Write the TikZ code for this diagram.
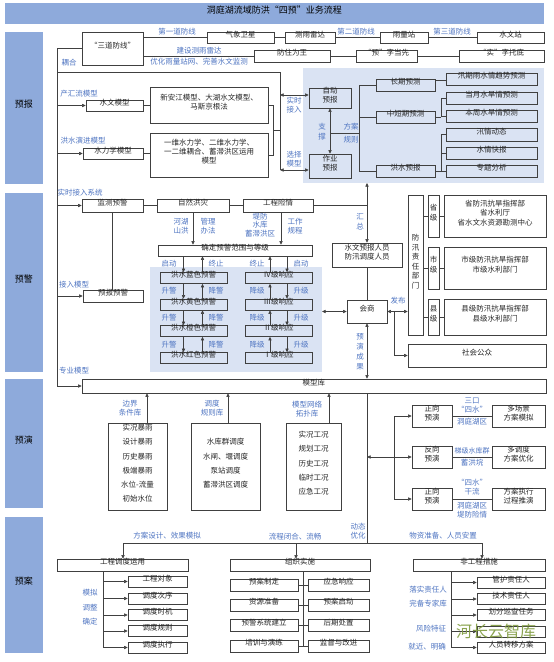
\documentclass[tikz,border=0pt]{standalone}
\usepackage{fontspec}
\setmainfont{Noto Sans CJK SC}
\usetikzlibrary{arrows.meta,fit}
\definecolor{cStage}{HTML}{8EAADB}
\definecolor{cArea}{HTML}{DAE3F3}
\definecolor{cLbl}{HTML}{4F75C2}
\definecolor{cLine}{HTML}{404040}
\definecolor{cText}{HTML}{262626}
\definecolor{cWm}{HTML}{7E9A3C}
\tikzset{
 bx/.style={draw=cLine, line width=0.6pt, inner sep=0pt, align=center, text=cText, font=\fontsize{7.5}{9}\selectfont},
 stg/.style={fill=cStage, inner sep=0pt, text=black, font=\fontsize{9}{11}\selectfont},
 areabox/.style={fill=cArea, inner sep=0pt},
 lb/.style={inner sep=0pt, align=center, text=cLbl, font=\fontsize{7.5}{9}\selectfont},
 lst/.style={font=\fontsize{7.5}{14.2}\selectfont},
}
\newcommand\B[5][]{\node[bx,#1,fit={(#2,#3) (#4,#5)}]}
\begin{document}
\begin{tikzpicture}[x=1pt,y=-1pt,line width=0.6pt,cLine,>={Triangle[length=3.6pt,width=3.2pt]}]
\useasboundingbox (0,0) rectangle (554,662);
\fill[white] (0,0) rectangle (554,662);
% areas
\node[areabox,fit={(303,68) (544,183)}] (A1) {};
\node[areabox,fit={(150,267) (322,372)}] (A2) {};
% title and stages
\node[stg,fit={(5,3) (544,24)}] (title) {洞庭湖流域防洪“四预”业务流程};
\node[stg,fit={(5,32) (43,184)}] (s1) {预报};
\node[stg,fit={(5,193) (43,372)}] (s2) {预警};
\node[stg,fit={(5,379) (43,508)}] (s3) {预演};
\node[stg,fit={(5,517) (43,653)}] (s4) {预案};
% ===== 预报 =====
\B{82}{32}{143}{65} (sdfx) {“三道防线”};
\B{207}{32}{274}{43} (qx) {气象卫星};
\B{285}{32}{335}{43} (cyld) {测雨雷达};
\B{380}{32}{428}{43} (ylz) {雨量站};
\B{477}{32}{544}{43} (swz) {水文站};
\B{254}{50}{330}{62} (fzww) {防住为王};
\B{356}{50}{417}{62} (yzdx) {“预”字当先};
\B{459}{50}{544}{62} (szt) {“实”字托底};
\draw (qx.west) -- (qx.west -| sdfx.east);
\draw (qx.east) -- (cyld.west);
\draw (cyld.east) -- (ylz.west);
\draw (ylz.east) -- (swz.west);
\draw (fzww.west) -- (fzww.west -| sdfx.east);
\draw (fzww.east) -- (yzdx.west);
\draw (yzdx.east) -- (szt.west);
\node[lb] (l1) at (177,32) {第一道防线};
\node[lb] (l2) at (356,32) {第二道防线};
\node[lb] (l3) at (452,32) {第三道防线};
\node[lb] (l4) at (199,51) {建设测雨雷达};
\node[lb] (l5) at (199,61.5) {优化雨量站网、完善水文监测};
\node[lb] (l6) at (69,63) {耦合};

\B{86}{100}{143}{111} (swmx) {水文模型};
\B{150}{87}{268}{123} (xaj) {新安江模型、大湖水文模型、\\马斯京根法};
\B{83}{148}{143}{159} (slx) {水力学模型};
\B{150}{133}{268}{177} (ywl) {一维水力学、二维水力学、\\一二维耦合、蓄滞洪区运用\\模型};
\node[lb] (l7) at (79,94) {产汇流模型};
\node[lb] (l8) at (83,141) {洪水演进模型};
\draw (swmx.east) -- (swmx.east -| xaj.west);
\draw (slx.east) -- (slx.east -| ywl.west);

\B{309}{88}{351}{108} (zdyb) {自动\\预报};
\B{309}{154}{351}{178} (zyyb) {作业\\预报};
\B{376}{79}{435}{91} (cqyc) {长期预测};
\B{376}{111}{435}{123} (zdqyc) {中短期预测};
\B{376}{165}{435}{177} (hsyb) {洪水预报};
\B{446}{73}{537}{85} (r1) {汛期雨水情趋势预测};
\B{446}{92}{537}{104} (r2) {当月水旱情预测};
\B{446}{110}{537}{122} (r3) {本周水旱情预测};
\B{446}{128}{537}{141} (r4) {汛情动态};
\B{446}{147}{537}{159} (r5) {水情快报};
\B{446}{165}{537}{177} (r6) {专题分析};

% spine
\coordinate (spB) at (57,386);
\B{82}{379}{546}{393} (mxk) {模型库};
\draw (sdfx.west) -| (spB);
\draw[->] (spB) -- (mxk.west);
\draw[->] (swmx.west -| spB) -- (swmx.west);
\draw[->] (slx.west -| spB) -- (slx.west);
\coordinate (c72) at (57,72);
\coordinate (c72r) at (280,72);
\coordinate (c170) at (280,170);
\coordinate (j95) at (280,95);
\draw (c72) -- (c72r) -- (c170);
\draw[<->] (j95) -- (j95 -| zdyb.west);
\draw[<->] (c170) -- (c170 -| zyyb.west);
\coordinate (b273) at (273,130);
\draw (xaj.east) -| (b273);
\draw (ywl.east) -| (b273);
\draw (b273) -- (b273 -| c72r);
\node[lb] (l9) at (294,101) {实时};
\node[lb] (l10) at (294,110) {接入};
\node[lb] (l11) at (294,155) {选择};
\node[lb] (l12) at (294,164) {模型};

\draw[<->] (zdyb.south) -- (zyyb.north);
\node[lb,font=\fontsize{7.5}{10}\selectfont] (l13) at (322,132) {支\\撑};
\node[lb] (l14) at (351,127) {方案};
\node[lb] (l15) at (351,140) {规则};
\coordinate (sp2) at (359,133);
\draw (sp2 -| zdyb.south) -- (sp2);
\draw (cqyc.west) -| (sp2);
\draw (hsyb.west) -| (sp2);
\draw (zdqyc.west) -- (zdqyc.west -| sp2);
\coordinate (b2) at (441,134);
\draw ([yshift=-2pt]cqyc.north east) -- ([yshift=-2pt]cqyc.north east -| r1.west);
\draw (r2.west) -- (r2.west -| b2) |- (r3.west);
\draw (zdqyc.east) -- (zdqyc.east -| b2);
\draw (r4.west) -- (r4.west -| b2) |- (r6.west);
\draw (r5.west) -- (r5.west -| b2);
\draw (hsyb.east) -- (r6.west);

% ===== 预警 =====
\B{82}{199}{143}{212} (jcyj) {监测预警};
\B{157}{199}{229}{212} (zrhz) {自然洪灾};
\B{243}{199}{313}{212} (gcxq) {工程险情};
\B{83}{290}{143}{302} (ybyj) {预报预警};
\B{158}{245}{312}{256} (qd) {确定预警范围与等级};
\node[lb] (l16) at (80,193) {实时接入系统};
\node[lb] (l17) at (74,285) {接入模型};
\draw[->] (jcyj.west -| spB) -- (jcyj.west);
\draw[->] (ybyj.west -| spB) -- (ybyj.west);
\draw (jcyj.east) -- (zrhz.west);
\draw (zrhz.east) -- (gcxq.west);
\draw (jcyj.south) -- (jcyj.south |- ybyj.north);
\draw[->] (zrhz.south) -- (zrhz.south |- qd.north);
\draw[->] ([xshift=3pt]gcxq.south) -- ([xshift=3pt]gcxq.south |- qd.north);
\node[lb] (l18) at (181,226) {河湖\\山洪};
\node[lb] (l19) at (208,226) {管理\\办法};
\node[lb,font=\fontsize{7.5}{8.5}\selectfont] (l20) at (260,225) {堤防\\水库\\蓄滞洪区};
\node[lb] (l21) at (295,226) {工作\\规程};

\B{160}{272.5}{227}{283.5} (w1) {洪水蓝色预警};
\B{160}{299}{227}{310} (w2) {洪水黄色预警};
\B{160}{325.5}{227}{336.5} (w3) {洪水橙色预警};
\B{160}{352.5}{227}{363.5} (w4) {洪水红色预警};
\B{245}{272.5}{312}{283.5} (v1) {Ⅳ级响应};
\B{245}{299}{312}{310} (v2) {Ⅲ级响应};
\B{245}{325.5}{312}{336.5} (v3) {Ⅱ级响应};
\B{245}{352.5}{312}{363.5} (v4) {Ⅰ级响应};
\draw[->] ([xshift=-10pt]w1.north |- qd.south) -- ([xshift=-10pt]w1.north);
\draw[->] ([xshift=9pt]w1.north) -- ([xshift=9pt]w1.north |- qd.south);
\draw[->] ([xshift=-8.5pt]v1.north) -- ([xshift=-8.5pt]v1.north |- qd.south);
\draw[->] ([xshift=8.5pt]v1.north |- qd.south) -- ([xshift=8.5pt]v1.north);
\node[lb] (l22) at (169,263.5) {启动};
\node[lb] (l23) at (216,263.5) {终止};
\node[lb] (l24) at (257,263.5) {终止};
\node[lb] (l25) at (301,263.5) {启动};
\foreach \a/\b/\m in {w1/w2/291, w2/w3/318, w3/w4/344.5}{
  \draw[->] ([xshift=-10pt]\a.south) -- ([xshift=-10pt]\b.north);
  \draw[->] ([xshift=9pt]\b.north) -- ([xshift=9pt]\a.south);
  \node[lb] (u\m) at (169,\m) {升警};
  \node[lb] (d\m) at (216,\m) {降警};
}
\foreach \a/\b/\m in {v1/v2/291, v2/v3/318, v3/v4/344.5}{
  \draw[->] ([xshift=-8.5pt]\b.north) -- ([xshift=-8.5pt]\a.south);
  \draw[->] ([xshift=8.5pt]\a.south) -- ([xshift=8.5pt]\b.north);
  \node[lb] (e\m) at (257,\m) {降级};
  \node[lb] (f\m) at (301,\m) {升级};
}

\B{332}{243}{402}{267} (swry) {水文预报人员\\防汛调度人员};
\B{347}{300}{387}{323} (hs) {会商};
\coordinate (x367) at (367,183);
\draw (gcxq.east) -- (gcxq.east -| x367);
\draw[<->] (x367) -- (swry.north);
\node[lb,font=\fontsize{7.5}{10}\selectfont] (l26) at (360,222) {汇\\总};
\draw (swry.south) -- (hs.north);
\draw[<->] (hs.south) -- (hs.south |- mxk.north);
\node[lb,font=\fontsize{7.5}{10}\selectfont] (l27) at (360,352) {预\\演\\成\\果};
\coordinate (ba2r) at (322,311.5);
\draw[<->] (ba2r) -- (hs.west);

\B[font=\fontsize{7.5}{9.5}\selectfont]{408}{195}{423}{335} (fxzr) {防\\汛\\责\\任\\部\\门};
\B[font=\fontsize{7.5}{10}\selectfont]{428}{195}{439}{237} (sj) {省\\级};
\B[font=\fontsize{7.5}{10}\selectfont]{428}{247}{439}{289} (shj) {市\\级};
\B[font=\fontsize{7.5}{10}\selectfont]{428}{299}{439}{335} (xj) {县\\级};
\B[font=\fontsize{7.5}{9.5}\selectfont]{444}{195}{546}{237} (p1) {省防汛抗旱指挥部\\省水利厅\\省水文水资源勘测中心};
\B[font=\fontsize{7.5}{10}\selectfont]{444}{247}{546}{289} (p2) {市级防汛抗旱指挥部\\市级水利部门};
\B[font=\fontsize{7.5}{10}\selectfont]{444}{299}{546}{335} (p3) {县级防汛抗旱指挥部\\县级水利部门};
\B{408}{344}{546}{367} (shgz) {社会公众};
\foreach \l/\p in {sj/p1, shj/p2, xj/p3}{
  \draw (\l.west) -- (\l.west -| fxzr.east);
  \draw (\l.east) -- (\p.west);
}
\coordinate (x394) at (394,0);
\draw[<->] (hs.east) -- (hs.east -| fxzr.west);
\draw[->] (hs.east -| x394) |- (shgz.west);
\node[lb] (l28) at (398,301) {发布};

% ===== 预演 =====
\node[lb] (l29) at (74,371) {专业模型};
\B[lst]{108}{423}{167}{510} (bj) {实况暴雨\\设计暴雨\\历史暴雨\\极端暴雨\\水位-流量\\初始水位};
\B[lst]{191}{423}{260}{510} (dd) {水库群调度\\水闸、堰调度\\泵站调度\\蓄滞洪区调度};
\B[lst]{286}{423}{341}{510} (tp) {实况工况\\规划工况\\历史工况\\临时工况\\应急工况};
\node[lb] (l30) at (130,408) {边界\\条件库};
\node[lb] (l31) at (212,408) {调度\\规则库};
\node[lb] (l32) at (307,409) {模型网络\\拓扑库};
\draw[->] ([xshift=9.5pt]bj.north) -- ([xshift=9.5pt]bj.north |- mxk.south);
\draw[->] ([xshift=2.5pt]dd.north) -- ([xshift=2.5pt]dd.north |- mxk.south);
\draw[->] ([xshift=15.5pt]tp.north) -- ([xshift=15.5pt]tp.north |- mxk.south);

\B{412}{405}{452}{427} (zx1) {正向\\预演};
\B{412}{446}{452}{468} (fx) {反向\\预演};
\B{412}{488}{452}{510} (zx2) {正向\\预演};
\B{492}{405}{545}{427} (m1) {多场景\\方案模拟};
\B{492}{446}{545}{468} (m2) {多调度\\方案优化};
\B{492}{488}{545}{510} (m3) {方案执行\\过程推演};
\draw (zx1.east) -- (m1.west);
\draw (fx.east) -- (m2.west);
\draw (zx2.east) -- (m3.west);
\node[lb] (l33) at (472,401) {三口};
\node[lb] (l34) at (472,409.5) {“四水”};
\node[lb] (l35) at (472,422) {洞庭湖区};
\node[lb,font=\fontsize{7}{8}\selectfont] (l36) at (472,451) {梯级水库群};
\node[lb] (l37) at (472,463) {蓄洪垸};
\node[lb] (l38) at (472,483) {“四水”};
\node[lb] (l39) at (472,492) {干流};
\node[lb] (l40) at (472,506) {洞庭湖区};
\node[lb] (l41) at (472,514.5) {堤防险情};
\coordinate (h2v) at (367,543);
\draw (mxk.south -| h2v) -- (h2v);
\coordinate (jy) at (367,457);
\draw[<->] (jy) -- (fx.west);
\coordinate (v394) at (394,457);
\draw[->] (v394) |- (zx1.west);
\draw[->] (v394) |- (zx2.west);

% ===== 预案 =====
\B{57}{559}{188}{571} (gcdd) {工程调度运用};
\B{230}{559}{370}{571} (zzss) {组织实施};
\B{413}{559}{545}{571} (fgc) {非工程措施};
\coordinate (h1) at (123,543);
\coordinate (h2) at (296,543);
\coordinate (h3) at (482,543);
\draw (h1) -- (h3);
\draw[->] (h1) -- (h1 |- gcdd.north);
\draw[->] (h2) -- (h2 |- zzss.north);
\draw[->] (h3) -- (h3 |- fgc.north);
\node[lb] (l42) at (167,536) {方案设计、效果模拟};
\node[lb] (l43) at (295,537) {流程闭合、流畅};
\node[lb] (l44) at (358,531) {动态\\优化};
\node[lb] (l45) at (443,536) {物资准备、人员安置};

\B{128}{576}{187}{587} (g1) {工程对象};
\B{128}{593}{187}{604} (g2) {调度次序};
\B{128}{609.5}{187}{620.5} (g3) {调度时机};
\B{128}{625.5}{187}{636.5} (g4) {调度规则};
\B{128}{642}{187}{653} (g5) {调度执行};
\coordinate (x103) at (103,0);
\draw (gcdd.south -| x103) -- (g5.west -| x103);
\foreach \g in {g1,g2,g3,g4,g5}{\draw[->] (\g.west -| x103) -- (\g.west);}
\node[lb] (l46) at (90,593) {模拟};
\node[lb] (l47) at (90,607.5) {调整};
\node[lb] (l48) at (90,622) {确定};

\B{230}{579}{298}{591} (a1) {预案制定};
\B{230}{599}{298}{611} (a2) {资源准备};
\B{230}{619.5}{298}{631.5} (a3) {预警系统建立};
\B{230}{640}{298}{652} (a4) {培训与演练};
\B{308}{579}{369}{591} (b1) {应急响应};
\B{308}{599}{369}{611} (b2) {预案启动};
\B{308}{619.5}{369}{631.5} (b3) {后期处置};
\B{308}{640}{369}{652} (b4) {监督与改进};
\coordinate (x303) at (303,0);
\draw (zzss.south -| x303) -- (a4.east -| x303);
\foreach \i in {1,2,3,4}{\draw (a\i.east) -- (b\i.west);}

\B{477}{577}{545}{588} (n1) {管护责任人};
\B{477}{593.5}{545}{604.5} (n2) {技术责任人};
\B{477}{609.5}{545}{620.5} (n3) {划分巡查任务};
\B{477}{626}{545}{637} (n4) {};
\B{477}{642}{545}{653} (n5) {人员转移方案};
\coordinate (x451) at (451,0);
\draw (fgc.south -| x451) -- (n5.west -| x451);
\foreach \n in {n1,n2,n3,n4,n5}{\draw[->] (\n.west -| x451) -- (\n.west);}
\node[lb] (l49) at (428,590) {落实责任人};
\node[lb] (l50) at (428,604) {完备专家库};
\node[lb] (l51) at (431,629) {风险特征};
\node[lb] (l52) at (427,647) {就近、明确};

% watermark
\node[inner sep=0pt,text=cWm,opacity=0.9,font=\fontsize{16}{16}\selectfont] (wm1) at (496,631) {河长云智库};
\end{tikzpicture}
\end{document}
